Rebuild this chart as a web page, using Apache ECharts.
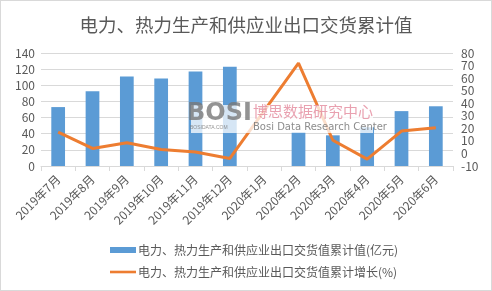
<!DOCTYPE html>
<html><head><meta charset="utf-8">
<script src="https://cdn.jsdelivr.net/npm/echarts@6/dist/echarts.min.js"></script>
<style>html,body{margin:0;padding:0;background:#fff}#c{width:490px;height:289px;border:1px solid #d9d9d9}</style>
</head><body><div id="c"></div>
<script>
const categories = ['2019年7月','2019年8月','2019年9月','2019年10月','2019年11月','2019年12月','2020年1月','2020年2月','2020年3月','2020年4月','2020年5月','2020年6月'];
const valueSeries = [73, 92.5, 111, 108.5, 117, 123, null, 42, 38, 48, 68, 74];
const growthSeries = [17, 4, 8.5, 3.2, 1.2, -4, null, 72, 10.5, -4.5, 17.8, 20.5];
const leftTicks = {min: 0, max: 140, interval: 20};
const rightTicks = {min: -10, max: 80, interval: 10};
const names = ['电力、热力生产和供应业出口交货值累计值(亿元)', '电力、热力生产和供应业出口交货值累计增长(%)'];
const title = '电力、热力生产和供应业出口交货累计值';

const chart = echarts.init(document.getElementById('c'));
const font = 'Microsoft YaHei, "Noto Sans CJK SC", sans-serif';
chart.setOption({
  animation: false,
  textStyle: {fontFamily: font},
  title: {text: title, left: 'center', top: 10, textStyle: {fontSize: 18.5, fontWeight: 'normal', color: '#595959', fontFamily: font}},
  grid: {left: 40, right: 38, top: 52, bottom: 124, containLabel: false},
  legend: {
    orient: 'vertical', left: 104, top: 238, itemGap: 10, itemWidth: 26, itemHeight: 6,
    textStyle: {fontSize: 12, color: '#595959', fontFamily: font, padding: [0, 0, 0, -3]},
    data: [{name: names[0], icon: 'rect'}, {name: names[1], icon: 'path://M0,0 L10,0 L10,1 L0,1 Z'}]
  },
  xAxis: {
    type: 'category', data: categories, boundaryGap: true,
    axisLine: {lineStyle: {color: '#d9d9d9'}},
    axisTick: {show: true, alignWithLabel: false, length: 5, lineStyle: {color: '#d9d9d9'}},
    axisLabel: {rotate: 45, fontSize: 12, color: '#595959', interval: 0, margin: 11}
  },
  yAxis: [
    {type: 'value', min: leftTicks.min, max: leftTicks.max, interval: leftTicks.interval,
     axisLine: {show: false}, axisTick: {show: false},
     axisLabel: {fontSize: 12, color: '#595959', margin: 6},
     splitLine: {lineStyle: {color: '#d9d9d9'}}},
    {type: 'value', min: rightTicks.min, max: rightTicks.max, interval: rightTicks.interval,
     axisLine: {show: false}, axisTick: {show: false},
     axisLabel: {fontSize: 12, color: '#595959', margin: 8},
     splitLine: {show: false}}
  ],
  series: [
    {name: names[0], type: 'bar', data: valueSeries, barWidth: '40%', itemStyle: {color: '#5B9BD5'}, yAxisIndex: 0},
    {name: names[1], type: 'line', data: growthSeries, yAxisIndex: 1, connectNulls: true,
     symbol: 'none', lineStyle: {color: '#ED7D31', width: 3}, itemStyle: {color: '#ED7D31'}}
  ],
  graphic: [
    {type: 'rect', left: 190, top: 104, shape: {width: 182, height: 28}, style: {fill: 'rgba(255,255,255,0.75)'}, z: 50},
    {type: 'text', left: 186, top: 101, style: {text: 'BOSI', font: 'bold 24px "DejaVu Sans"', fill: 'rgba(120,120,120,0.8)'}, z: 51},
    {type: 'text', left: 189, top: 124, style: {text: 'BOSIDATA.COM', font: '5px sans-serif', fill: 'rgba(120,120,120,0.8)'}, z: 51},
    {type: 'text', left: 252, top: 103, style: {text: '博思数据研究中心', font: '15px "Noto Sans CJK SC"', fill: 'rgba(225,130,150,0.75)'}, z: 51},
    {type: 'text', left: 252, top: 121, style: {text: 'Bosi Data Research Center', font: '10px "DejaVu Sans"', fill: 'rgba(110,110,110,0.8)'}, z: 51}
  ]
});
</script></body></html>
